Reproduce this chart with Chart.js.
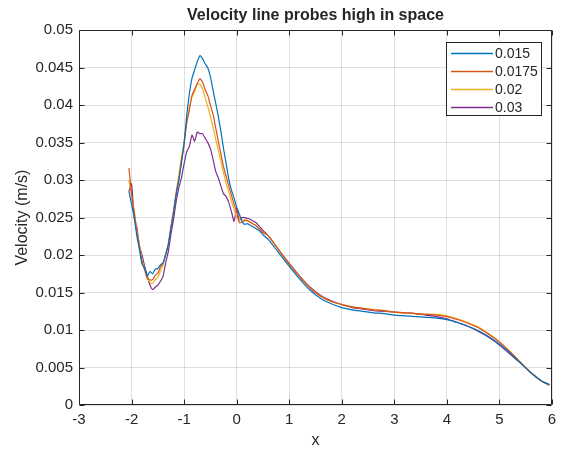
<!DOCTYPE html>
<html><head><meta charset="utf-8">
<script src="https://cdn.jsdelivr.net/npm/chart.js@4/dist/chart.umd.min.js"></script>
<style>html,body{margin:0;padding:0;background:#fff;}#wrap{width:563px;height:454px;position:relative;}</style>
</head><body><div id="wrap"><canvas id="c"></canvas></div>
<script>
const seriesNames = ['0.015', '0.0175', '0.02', '0.03'];
const seriesColors = ['#0072BD', '#D95319', '#EDB120', '#7E2F8E'];
const xTicks = [-3, -2, -1, 0, 1, 2, 3, 4, 5, 6];
const xTickLabels = ['-3', '-2', '-1', '0', '1', '2', '3', '4', '5', '6'];
const yTicks = [0, 0.005, 0.01, 0.015, 0.02, 0.025, 0.03, 0.035, 0.04, 0.045, 0.05];
const yTickLabels = ['0', '0.005', '0.01', '0.015', '0.02', '0.025', '0.03', '0.035', '0.04', '0.045', '0.05'];

const xValues = [-2.05,-2.0,-1.95,-1.9,-1.85,-1.8,-1.75,-1.7,-1.65,-1.6,-1.55,-1.5,-1.45,-1.4,-1.35,-1.3,-1.25,-1.2,-1.15,-1.1,-1.05,-1.0,-0.95,-0.9,-0.85,-0.8,-0.75,-0.7,-0.65,-0.6,-0.55,-0.5,-0.45,-0.4,-0.35,-0.3,-0.25,-0.2,-0.15,-0.1,-0.05,0,0.05,0.1,0.15,0.2,0.25,0.3,0.35,0.4,0.45,0.5,
  0.6,0.8,1.0,1.2,1.4,1.6,1.8,2.0,2.2,2.4,2.6,2.8,3.0,3.2,3.4,3.6,3.8,4.0,4.2,4.4,4.6,4.8,5.0,5.2,5.4,5.6,5.8,5.95];

const v0015 = [0.0285,0.0268,0.0250,0.0226,0.0207,0.0188,0.0183,0.0172,0.0178,0.0175,0.0181,0.0182,0.0187,0.0190,0.0201,0.0214,0.0236,0.0257,0.0281,0.0300,0.0323,0.0350,0.0386,0.0415,0.0436,0.0447,0.0458,0.0466,0.0462,0.0455,0.0450,0.0438,0.0420,0.0403,0.0385,0.0365,0.0342,0.0322,0.0301,0.0287,0.0276,0.0264,0.0255,0.0245,0.0241,0.0242,0.0240,0.0238,0.0236,0.0234,0.0231,0.0227,
  0.0221,0.0203,0.0185,0.0168,0.0153,0.0142,0.0135,0.0130,0.0127,0.0125,0.0123,0.0122,0.0120,0.0119,0.0118,0.0117,0.0116,0.0114,0.0110,0.0105,0.0099,0.0091,0.0081,0.0069,0.0056,0.0043,0.0032,0.0027];

const v00175 = [0.0316,0.0282,0.0257,0.0230,0.0212,0.0190,0.0180,0.0169,0.0167,0.0167,0.0173,0.0176,0.0184,0.0189,0.0201,0.0214,0.0237,0.0257,0.0282,0.0301,0.0326,0.0347,0.0376,0.0394,0.0413,0.0421,0.0429,0.0435,0.0431,0.0421,0.0413,0.0400,0.0388,0.0370,0.0352,0.0335,0.0318,0.0305,0.0292,0.0280,0.0268,0.0258,0.0243,0.0244,0.0246,0.0246,0.0244,0.0242,0.0240,0.0237,0.0234,0.0230,
  0.0226,0.0207,0.0188,0.0171,0.0156,0.0145,0.0138,0.0134,0.0131,0.0129,0.0127,0.0126,0.0124,0.0123,0.0122,0.0121,0.0120,0.0118,0.0114,0.0109,0.0103,0.0094,0.0084,0.0071,0.0057,0.0043,0.0032,0.0027];

const v002 = [0.0300,0.0278,0.0260,0.0233,0.0214,0.0193,0.0182,0.0169,0.0164,0.0162,0.0167,0.0170,0.0179,0.0187,0.0201,0.0216,0.0239,0.0261,0.0286,0.0307,0.0331,0.0351,0.0379,0.0396,0.0411,0.0418,0.0428,0.0428,0.0422,0.0410,0.0398,0.0385,0.0370,0.0355,0.0340,0.0325,0.0310,0.0295,0.0285,0.0272,0.0262,0.0250,0.0248,0.0247,0.0247,0.0246,0.0244,0.0242,0.0240,0.0237,0.0234,0.0230,
  0.0226,0.0207,0.0188,0.0171,0.0156,0.0145,0.0138,0.0134,0.0131,0.0129,0.0127,0.0126,0.0124,0.0123,0.0122,0.0121,0.0121,0.0119,0.0115,0.0110,0.0104,0.0095,0.0084,0.0071,0.0057,0.0043,0.0032,0.0026];

const v003 = [0.0285,0.0295,0.0250,0.0238,0.0212,0.0200,0.0185,0.0172,0.0160,0.0154,0.0157,0.0160,0.0165,0.0172,0.0190,0.0205,0.0228,0.0248,0.0272,0.0290,0.0303,0.0322,0.0338,0.0345,0.0360,0.0352,0.0364,0.0362,0.0362,0.0356,0.0350,0.0342,0.0328,0.0312,0.0303,0.0292,0.0282,0.0278,0.0270,0.0258,0.0245,0.0262,0.0247,0.0250,0.0250,0.0249,0.0248,0.0246,0.0244,0.0241,0.0237,0.0233,
  0.0226,0.0207,0.0189,0.0172,0.0157,0.0146,0.0139,0.0134,0.0130,0.0128,0.0126,0.0125,0.0124,0.0123,0.0122,0.0120,0.0118,0.0115,0.0110,0.0105,0.0098,0.0090,0.0080,0.0068,0.0056,0.0043,0.0032,0.0027];

const seriesValues = [v0015, v00175, v002, v003];
const FONT = '"Liberation Sans", Arial, Helvetica, sans-serif';
const INK = '#262626';

const datasets = seriesValues.map((vals, i) => ({
  label: seriesNames[i],
  data: xValues.map((x, k) => ({x: x, y: vals[k]})),
  borderColor: seriesColors[i],
  backgroundColor: seriesColors[i],
  borderWidth: 1.2,
  pointRadius: 0,
  tension: 0.2,
  fill: false
}));

const framePlugin = {
  id: 'frame',
  afterLayout(chart) {
    if (chart.titleBlock) {
      chart.titleBlock.left = chart.chartArea.left;
      chart.titleBlock.right = chart.chartArea.right;
    }
  },
  afterDatasetsDraw(chart) {
    const {ctx, chartArea: a, scales: {x, y}} = chart;
    const L = Math.round(a.left) + 0.5, R = Math.round(a.right) - 0.5;
    const T = Math.round(a.top) + 0.5, B = Math.round(a.bottom) - 0.5;
    ctx.save();
    ctx.strokeStyle = INK;
    ctx.lineWidth = 1;
    ctx.beginPath();
    xTicks.forEach(v => {
      const px = Math.round(x.getPixelForValue(v)) + 0.5;
      ctx.moveTo(px, B); ctx.lineTo(px, B - 5);
      ctx.moveTo(px, T); ctx.lineTo(px, T + 5);
    });
    yTicks.forEach(v => {
      const py = Math.round(y.getPixelForValue(v)) + 0.5;
      ctx.moveTo(L, py); ctx.lineTo(L + 5, py);
      ctx.moveTo(R, py); ctx.lineTo(R - 5, py);
    });
    ctx.stroke();
    ctx.beginPath();
    ctx.rect(L, T, R - L, B - T);
    ctx.stroke();
    // legend box
    const bx = 446.5, by = 42.5, bw = 95, bh = 73;
    ctx.fillStyle = '#ffffff';
    ctx.fillRect(bx, by, bw, bh);
    ctx.strokeStyle = INK;
    ctx.lineWidth = 1;
    ctx.strokeRect(bx, by, bw, bh);
    ctx.font = '14px ' + FONT;
    ctx.textBaseline = 'middle';
    ctx.textAlign = 'left';
    seriesNames.forEach((name, i) => {
      const cy = 53 + i * 18;
      ctx.beginPath();
      ctx.strokeStyle = seriesColors[i];
      ctx.lineWidth = 1.3;
      ctx.moveTo(451, cy + 0.5);
      ctx.lineTo(493, cy + 0.5);
      ctx.stroke();
      ctx.fillStyle = INK;
      ctx.fillText(name, 495, cy + 1);
    });
    ctx.restore();
  }
};

new Chart(document.getElementById('c'), {
  type: 'line',
  data: {datasets: datasets},
  options: {
    responsive: true,
    maintainAspectRatio: false,
    animation: false,
    layout: {padding: {left: 0, right: 11, top: 1, bottom: 4}},
    plugins: {
      legend: {display: false},
      tooltip: {enabled: false},
      title: {
        display: true,
        text: 'Velocity line probes high in space',
        color: INK,
        font: {family: FONT, size: 16, weight: 'bold'},
        padding: {top: 5, bottom: 5}
      }
    },
    scales: {
      x: {
        type: 'linear', min: -3, max: 6,
        afterBuildTicks: s => { s.ticks = xTicks.map(v => ({value: v})); },
        afterFit: s => { s.height = 45; },
        ticks: {
          color: INK, font: {family: FONT, size: 15}, padding: 6,
          maxRotation: 0, autoSkip: false,
          callback: (v, i) => xTickLabels[i]
        },
        grid: {color: 'rgba(38,38,38,0.15)', drawTicks: false, lineWidth: 1},
        border: {display: false},
        title: {display: true, text: 'x', color: INK, font: {family: FONT, size: 16}, padding: {top: 0, bottom: 0}}
      },
      y: {
        type: 'linear', min: 0, max: 0.05,
        afterBuildTicks: s => { s.ticks = yTicks.map(v => ({value: v})); },
        afterFit: s => { s.width = 79; },
        ticks: {
          color: INK, font: {family: FONT, size: 15}, padding: 6,
          autoSkip: false,
          callback: (v, i) => yTickLabels[i]
        },
        grid: {color: 'rgba(38,38,38,0.15)', drawTicks: false, lineWidth: 1},
        border: {display: false},
        title: {display: true, text: 'Velocity (m/s)', color: INK, font: {family: FONT, size: 16}, padding: {top: 13, bottom: 0}}
      }
    }
  },
  plugins: [framePlugin]
});
</script>
</body></html>
